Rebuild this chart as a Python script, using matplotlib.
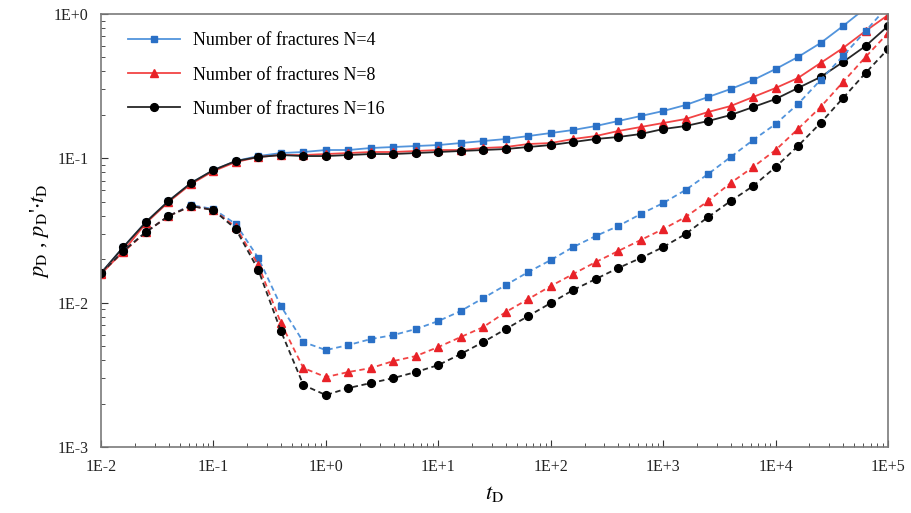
import matplotlib
matplotlib.use("Agg")
import matplotlib.pyplot as plt
from matplotlib.ticker import LogLocator, NullFormatter

# Dimensionless time (same sampling for every curve)
t_d = [0.01, 0.0158, 0.0251, 0.0398, 0.0631, 0.1, 0.158, 0.251, 0.398, 0.631,
       1, 1.58, 2.51, 3.98, 6.31, 10, 15.8, 25.1, 39.8, 63.1,
       100, 158, 251, 398, 631, 1000, 1580, 2510, 3980, 6310,
       1e4, 1.58e4, 2.51e4, 3.98e4, 6.31e4, 1e5]

# Pressure pD (solid lines)
pd_n4 = [0.01603, 0.02427, 0.03620, 0.05058, 0.06745, 0.08295, 0.0958, 0.1037, 0.1088, 0.1106,
         0.1142, 0.1142, 0.1179, 0.1198, 0.1217, 0.1236, 0.1276, 0.1318, 0.1361, 0.1427,
         0.1497, 0.1571, 0.1674, 0.1813, 0.1964, 0.2127, 0.2340, 0.2660, 0.3021, 0.3488,
         0.4157, 0.5035, 0.6295, 0.8257, 1.100, 1.514]
pd_n8 = [0.01578, 0.02278, 0.03561, 0.04980, 0.06636, 0.08166, 0.09427, 0.1021, 0.1054, 0.1054,
         0.1071, 0.1088, 0.1106, 0.1106, 0.1124, 0.1142, 0.1142, 0.1179, 0.1198, 0.1256,
         0.1276, 0.1361, 0.1427, 0.1546, 0.1648, 0.1757, 0.1872, 0.2094, 0.2303, 0.2660,
         0.3070, 0.3601, 0.4575, 0.5813, 0.7623, 0.984]
pd_n16 = [0.01603, 0.02427, 0.03620, 0.05058, 0.06745, 0.08295, 0.0958, 0.1021, 0.1054, 0.1037,
          0.1037, 0.1054, 0.1071, 0.1071, 0.1088, 0.1106, 0.1124, 0.1142, 0.1160, 0.1198,
          0.1236, 0.1297, 0.1361, 0.1405, 0.1474, 0.1596, 0.1674, 0.1813, 0.1995, 0.2266,
          0.2576, 0.3070, 0.3659, 0.4649, 0.6002, 0.8257]

# Pressure derivative pD'tD (dashed lines)
dpd_n4 = [0.01603, 0.02278, 0.03085, 0.03983, 0.04747, 0.04452, 0.03505, 0.02037, 0.009471, 0.005333,
          0.004693, 0.005083, 0.005593, 0.005963, 0.006561, 0.007456, 0.008747, 0.01076, 0.01324, 0.01630,
          0.01973, 0.02427, 0.02894, 0.03395, 0.04111, 0.04900, 0.06031, 0.07785, 0.1021, 0.1339,
          0.1729, 0.2378, 0.3488, 0.5117, 0.7623, 1.136]
dpd_n8 = [0.01603, 0.02242, 0.03085, 0.03983, 0.04671, 0.04382, 0.03341, 0.01822, 0.007220, 0.003522,
          0.003051, 0.003305, 0.003522, 0.003938, 0.004265, 0.004925, 0.005775, 0.006774, 0.008609, 0.01059,
          0.01303, 0.01578, 0.01911, 0.02278, 0.02716, 0.03236, 0.03918, 0.05058, 0.06745, 0.08704,
          0.1142, 0.1596, 0.2266, 0.3379, 0.5035, 0.7384]
dpd_n16 = [0.01603, 0.02278, 0.03085, 0.03983, 0.04671, 0.04382, 0.03236, 0.01682, 0.006357, 0.002685,
           0.002289, 0.002560, 0.002772, 0.003003, 0.003305, 0.003694, 0.004404, 0.005333, 0.006561, 0.008074,
           0.009936, 0.01223, 0.01457, 0.01737, 0.02037, 0.02427, 0.02988, 0.03918, 0.05058, 0.06427,
           0.08704, 0.1217, 0.1757, 0.2618, 0.3902, 0.5721]

labels = ["Number of fractures N=4", "Number of fractures N=8", "Number of fractures N=16"]

# Excel style tick labels
x_ticks = [1e-2, 1e-1, 1e0, 1e1, 1e2, 1e3, 1e4, 1e5]
x_tick_labels = ["1E-2", "1E-1", "1E+0", "1E+1", "1E+2", "1E+3", "1E+4", "1E+5"]
y_ticks = [1e-3, 1e-2, 1e-1, 1e0]
y_tick_labels = ["1E-3", "1E-2", "1E-1", "1E+0"]

plt.rcParams['font.family'] = ['Liberation Serif', 'DejaVu Serif']
plt.rcParams['mathtext.fontset'] = 'stix'

fig = plt.figure(figsize=(9.11, 5.13), dpi=100)
ax = fig.add_axes([0.1109, 0.1287, 0.8639, 0.844])

# (line colour, marker colour, marker, size)
styles = [("#5294DC", "#2A70C6", "s", 4.8),
          ("#F24444", "#E82228", "^", 6.2),
          ("#262626", "#000000", "o", 5.6)]
solid = [pd_n4, pd_n8, pd_n16]
dashed = [dpd_n4, dpd_n8, dpd_n16]

for (lc, mc, mk, ms), yv, lab in zip(styles, solid, labels):
    ax.plot(t_d, yv, color=lc, lw=1.3, marker=mk, ms=ms, mfc=mc, mec=mc, label=lab)
for (lc, mc, mk, ms), yv in zip(styles, dashed):
    ax.plot(t_d, yv, color=lc, lw=1.3, ls=(0, (3, 2)), marker=mk, ms=ms, mfc=mc, mec=mc)

ax.set_xscale('log')
ax.set_yscale('log')
ax.set_xticks(x_ticks, x_tick_labels)
ax.set_yticks(y_ticks, y_tick_labels)
ax.xaxis.set_minor_locator(LogLocator(base=10, subs=range(2, 10), numticks=100))
ax.yaxis.set_minor_locator(LogLocator(base=10, subs=range(2, 10), numticks=100))
ax.xaxis.set_minor_formatter(NullFormatter())
ax.yaxis.set_minor_formatter(NullFormatter())
ax.set_xlim(1e-2, 1e5)
ax.set_ylim(1e-3, 1)

ax.tick_params(which='both', direction='in', top=False, right=False, colors='#333333',
               labelsize=11.5, labelcolor='#222222')
ax.tick_params(which='major', length=5, pad=9)
ax.tick_params(which='minor', length=3)
for s in ax.spines.values():
    s.set_color('#7a7a7a')
    s.set_linewidth(1.2)

ax.set_xlabel(r'$t_\mathrm{D}$', fontsize=16, labelpad=6)
ax.set_ylabel(r"$p_\mathrm{D}$ , $p_\mathrm{D}$'$\cdot t_\mathrm{D}$", fontsize=16, labelpad=2)

ax.legend(loc='upper left', bbox_to_anchor=(0.013, 0.995), frameon=False, fontsize=13,
          handlelength=2.9, labelspacing=0.95, handletextpad=0.75, numpoints=1)

plt.savefig('out.png', dpi=100)
